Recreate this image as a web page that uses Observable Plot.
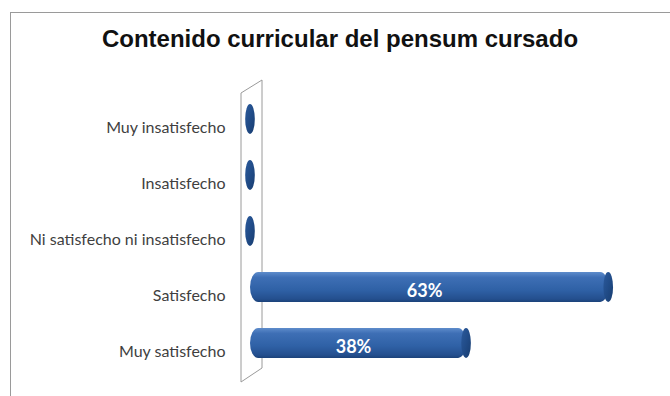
<!DOCTYPE html>
<html><head><meta charset="utf-8">
<script src="https://cdn.jsdelivr.net/npm/d3@7"></script>
<script src="https://cdn.jsdelivr.net/npm/@observablehq/plot@0.6"></script>
<style>
body{margin:0;background:#fff;width:670px;height:396px;overflow:hidden;position:relative;font-family:Lato,"Open Sans",sans-serif}
#frame{position:absolute;left:10px;top:12px;width:680px;height:400px;border-top:1px solid #9a9a9a;border-left:1px solid #9a9a9a;box-sizing:border-box}
#title{position:absolute;left:0;top:25px;width:680px;text-align:center;font:bold 24px "Liberation Sans",Arial,sans-serif;color:#111}
#chart{position:absolute;left:0;top:70px}
</style></head><body>
<div id="frame"></div>
<div id="title">Contenido curricular del pensum cursado</div>
<div id="chart"></div>
<script>
const categories = ["Muy insatisfecho", "Insatisfecho", "Ni satisfecho ni insatisfecho", "Satisfecho", "Muy satisfecho"];
const values = [0, 0, 0, 63, 38];
const valueLabels = ["", "", "", "63%", "38%"];

const data = categories.map((c, i) => ({cat: c, v: values[i], label: valueLabels[i]}));

const plot = Plot.plot({
  width: 670,
  height: 326,
  marginLeft: 250,
  marginRight: 22,
  marginTop: 28,
  marginBottom: 16,
  x: {domain: [0, 70], axis: null},
  y: {domain: categories, padding: 0, label: null},
  style: {fontFamily: "Lato, 'Open Sans', sans-serif", color: "#3f3f3f", background: "transparent"},
  marks: [
    Plot.axisY({tickSize: 0, tickPadding: 25, fontSize: 16, label: null}),
    Plot.barX(data, {y: "cat", x: "v", fill: "url(#cyl)", insetTop: 13, insetBottom: 13, rx: 8, ry: 15, dy: -8}),
    Plot.barX(data, {y: "cat", x1: d => d.v - 0.85, x2: d => d.v + 0.85, fill: "url(#cap)", insetTop: 13, insetBottom: 13, rx: 5, ry: 15, dy: -8}),
    Plot.text(data, {y: "cat", x: d => d.v / 2, text: "label", fill: "white", fontWeight: "bold", fontSize: 18, dx: -5, dy: -4, fontFamily: "Lato, 'Open Sans', sans-serif"})
  ]
});

const svg = d3.select(plot);
const defs = svg.append("defs");
const g1 = defs.append("linearGradient").attr("id", "cyl").attr("x1", 0).attr("y1", 0).attr("x2", 0).attr("y2", 1);
[[0, "#5e8ccb"], [0.18, "#3e6fb5"], [0.6, "#2f61a6"], [0.9, "#244f8e"], [1, "#1b4279"]].forEach(([o, c]) => g1.append("stop").attr("offset", o).attr("stop-color", c));
const g2 = defs.append("linearGradient").attr("id", "cap").attr("x1", 0).attr("y1", 0).attr("x2", 1).attr("y2", 1);
[[0, "#2b5a9c"], [0.5, "#214c88"], [1, "#183d70"]].forEach(([o, c]) => g2.append("stop").attr("offset", o).attr("stop-color", c));

// back wall of the 3D plot area, placed from the scales
const xs = plot.scale("x"), ys = plot.scale("y");
const x0 = xs.apply(0);
const [r0, r1] = ys.range;
const wall = `M${x0 - 9},${r0 - 5}L${x0 + 12},${r0 - 18}L${x0 + 12},${r1 - 12}L${x0 - 9},${r1 + 2}Z`;
svg.insert("path", ":first-child").attr("d", wall).attr("fill", "#fff").attr("stroke", "#9a9a9a").attr("stroke-width", 1);

document.getElementById("chart").appendChild(plot);
</script>
</body></html>
